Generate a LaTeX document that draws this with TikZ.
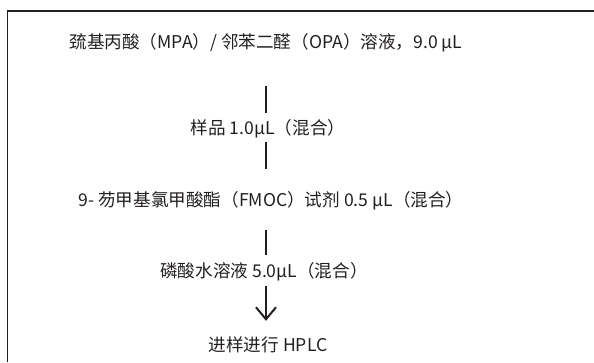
\documentclass[tikz,border=0pt]{standalone}
\usepackage{fontspec}
\setmainfont{Noto Sans CJK SC}
\usetikzlibrary{arrows.meta}
\definecolor{ink}{HTML}{231F20}
\tikzset{
  lbl/.style={inner sep=0pt, text height=11pt, text depth=3pt, font=\fontsize{17.6}{19}\selectfont, text=ink, anchor=center},
  link/.style={draw=ink, line width=2pt},
  frame/.style={draw=ink, line width=1.6pt}
}
\begin{document}
\begin{tikzpicture}[x=1pt,y=-1pt]
\useasboundingbox (0,0) rectangle (594,362);
\draw[frame] (594,11) -- (7.5,11) -- (7.5,362);
\coordinate (col) at (266,0);
\node[lbl] (t1) at (266,44) {巯基丙酸（MPA）/ 邻苯二醛（OPA）溶液，9.0 μL};
\node[lbl] (t2) at (268,130) {样品 1.0μL（混合）};
\node[lbl] (t3) at (271,202) {9- 芴甲基氯甲酸酯（FMOC）试剂 0.5 μL（混合）};
\node[lbl] (t4) at (264,273) {磷酸水溶液 5.0μL（混合）};
\node[lbl] (t5) at (268,347) {进样进行 HPLC};
\draw[link, shorten <=35pt, shorten >=10pt] (t1.south -| col) -- (t2.north -| col);
\draw[link, shorten <=5pt, shorten >=26pt] (t2.south -| col) -- (t3.north -| col);
\draw[link, shorten <=21pt, shorten >=11pt] (t3.south -| col) -- (t4.north -| col);
\draw[link, shorten <=6pt, shorten >=19pt, -{Straight Barb[length=12pt, width=20pt, line width=2pt]}] (t4.south -| col) -- (t5.north -| col);
\end{tikzpicture}
\end{document}
